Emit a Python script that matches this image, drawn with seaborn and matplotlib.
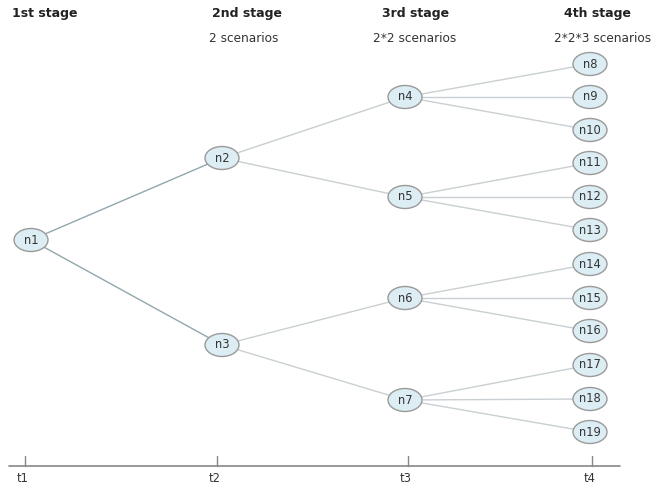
import matplotlib
matplotlib.use("Agg")
import matplotlib.pyplot as plt
from matplotlib.patches import Ellipse
import seaborn as sns
import pandas as pd

# ---- data ----
node_names = ["n1", "n2", "n3", "n4", "n5", "n6", "n7",
              "n8", "n9", "n10", "n11", "n12", "n13",
              "n14", "n15", "n16", "n17", "n18", "n19"]
node_stage = [1, 2, 2, 3, 3, 3, 3, 4, 4, 4, 4, 4, 4, 4, 4, 4, 4, 4, 4]
node_parent = [None, "n1", "n1", "n2", "n2", "n3", "n3",
               "n4", "n4", "n4", "n5", "n5", "n5",
               "n6", "n6", "n6", "n7", "n7", "n7"]
node_x = [31, 222, 222, 405, 405, 405, 405,
          590, 590, 590, 590, 590, 590, 590, 590, 590, 590, 590, 590]
node_y = [240, 158, 345, 97, 197, 298, 400,
          64, 97, 130, 163, 197, 230, 264, 298, 331, 365, 399, 432]

stage_titles = ["1st stage", "2nd stage", "3rd stage", "4th stage"]
stage_title_x = [12, 247, 416, 598]
stage_subtitles = ["", "2 scenarios", "2*2 scenarios", "2*2*3 scenarios"]
stage_subtitle_x = [0, 244, 415, 603]
time_labels = ["t1", "t2", "t3", "t4"]
time_x = [25, 217, 408, 592]

# ---- figure ----
sns.set_theme(style="white")
plt.rcParams["font.family"] = ["DejaVu Sans"]
fig = plt.figure(figsize=(6.57, 4.88), dpi=100)
ax = fig.add_axes([0, 0, 1, 1])
ax.set_xlim(0, 657)
ax.set_ylim(488, 0)
ax.axis("off")

pos = {n: (x, y) for n, x, y in zip(node_names, node_x, node_y)}
rows = []
for n, p in zip(node_names, node_parent):
    if p is None:
        continue
    for pt in (p, n):
        rows.append({"edge": n, "x": pos[pt][0], "y": pos[pt][1],
                     "root": p == "n1"})
edges = pd.DataFrame(rows)

sns.lineplot(data=edges[edges.root], x="x", y="y", units="edge",
             estimator=None, sort=False, color="#93a6ae", lw=1.0, ax=ax,
             zorder=1)
sns.lineplot(data=edges[~edges.root], x="x", y="y", units="edge",
             estimator=None, sort=False, color="#c9cfd2", lw=1.0, ax=ax,
             zorder=1)

for n, x, y in zip(node_names, node_x, node_y):
    ax.add_patch(Ellipse((x, y), 34, 23, facecolor="#dcedf4",
                         edgecolor="#9a9a9a", lw=1.0, zorder=2))
    ax.text(x, y, n, ha="center", va="center", fontsize=8.3,
            color="#333333", zorder=3)

# stage headers
for i, (t, sx, st, ssx) in enumerate(zip(stage_titles, stage_title_x,
                                         stage_subtitles, stage_subtitle_x)):
    ax.text(sx, 13, t, ha="left" if i == 0 else "center", va="center",
            fontsize=9, fontweight="bold", color="#222222")
    if st:
        ax.text(ssx, 38, st, ha="center", va="center", fontsize=8.7,
                color="#333333")

# time axis
ax.plot([9, 620], [466, 466], color="#888888", lw=1.2, zorder=1)
for lab, tx in zip(time_labels, time_x):
    ax.plot([tx, tx], [456, 466], color="#888888", lw=1.0)
    ax.text(tx - 2, 479, lab, ha="center", va="center", fontsize=8.3,
            color="#333333")

fig.savefig("out.png", dpi=100)
